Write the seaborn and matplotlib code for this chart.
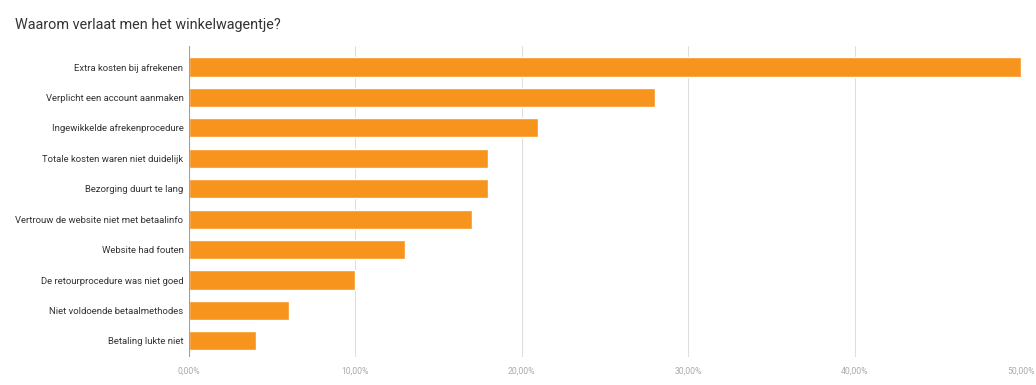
import matplotlib
matplotlib.use("Agg")
import matplotlib.pyplot as plt
import seaborn as sns
import pandas as pd
from matplotlib.ticker import FuncFormatter

# --- data ---
reasons = [
    "Extra kosten bij afrekenen",
    "Verplicht een account aanmaken",
    "Ingewikkelde afrekenprocedure",
    "Totale kosten waren niet duidelijk",
    "Bezorging duurt te lang",
    "Vertrouw de website niet met betaalinfo",
    "Website had fouten",
    "De retourprocedure was niet goed",
    "Niet voldoende betaalmethodes",
    "Betaling lukte niet",
]
percentages = [50, 28, 21, 18, 18, 17, 13, 10, 6, 4]
x_ticks = [0, 10, 20, 30, 40, 50]

BAR_COLOR = "#f7941d"

sns.set_theme(style="white")
plt.rcParams["font.family"] = ["Roboto", "DejaVu Sans"]

df = pd.DataFrame({"reden": reasons, "pct": percentages})

fig = plt.figure(figsize=(10.36, 3.85), dpi=100)
ax = fig.add_axes([0.1824, 0.0727, 0.8031, 0.8078])

sns.barplot(data=df, x="pct", y="reden", color=BAR_COLOR, saturation=1,
            width=0.63, ax=ax, zorder=3)

ax.set_xlim(0, 50)
ax.set_ylim(9.53, -0.69)
ax.set_xticks(x_ticks)
ax.xaxis.set_major_formatter(FuncFormatter(lambda v, p: f"{v:.2f}%".replace(".", ",")))
ax.grid(axis="x", color="#dddddd", linewidth=0.7, zorder=0)
ax.axvline(0, color="#9e9e9e", linewidth=1.5, zorder=4)

for s in ax.spines.values():
    s.set_visible(False)

ax.tick_params(axis="x", length=0, labelsize=6.2, labelcolor="#aaaaaa", pad=7)
ax.tick_params(axis="y", length=0, labelsize=6.8, labelcolor="#333333", pad=4)
ax.set_xlabel("")
ax.set_ylabel("")

fig.text(0.0145, 0.935, "Waarom verlaat men het winkelwagentje?", fontsize=10.35,
         color="#333333", ha="left", va="center")

fig.savefig("out.png", dpi=100, facecolor="white")
